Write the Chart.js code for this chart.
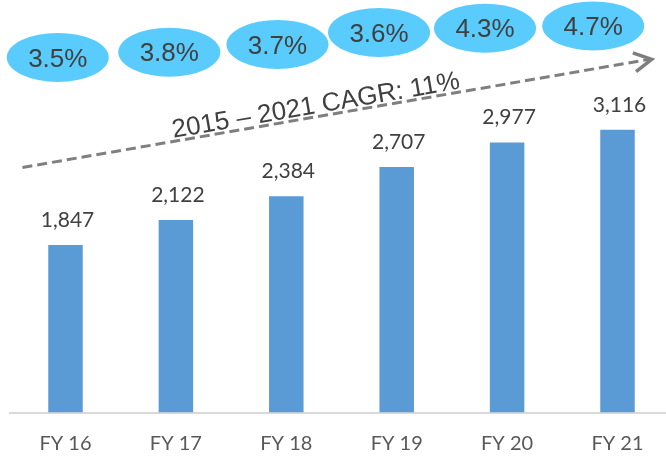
<!DOCTYPE html>
<html>
<head>
<meta charset="utf-8">
<script src="https://cdn.jsdelivr.net/npm/chart.js@4"></script>
<style>
  html, body { margin: 0; padding: 0; background: #fff; }
  #wrap { width: 666px; height: 456px; overflow: hidden; }
</style>
</head>
<body>
<div id="wrap"><canvas id="revenueChart" width="674" height="456"></canvas></div>
<script>
// Categories and values
const years = ['FY 16', 'FY 17', 'FY 18', 'FY 19', 'FY 20', 'FY 21'];
const revenue = [1847, 2122, 2384, 2707, 2977, 3116];
const growth = ['3.5%', '3.8%', '3.7%', '3.6%', '4.3%', '4.7%'];
const cagrLabel = '2015 \u2013 2021 CAGR: 11%';

// Where the call-outs sit, in axis units (category index, value)
const bubbleX = [-0.07, 0.94, 1.92, 2.84, 3.80, 4.78];
const bubbleY = [3914, 3972, 4057, 4190, 4236, 4261];
const arrowFrom = [-0.39, 2701];
const arrowTo = [5.31, 3894];
const cagrAt = [2.28, 3300];

const annotations = {
  id: 'annotations',
  afterDatasetsDraw(chart) {
    const ctx = chart.ctx;
    const xs = chart.scales.x;
    const ys = chart.scales.y;

    // value labels above bars
    const meta = chart.getDatasetMeta(0);
    ctx.save();
    ctx.font = '21px Lato';
    ctx.fillStyle = '#404040';
    ctx.textAlign = 'center';
    ctx.textBaseline = 'middle';
    meta.data.forEach((bar, i) => {
      ctx.fillText(revenue[i].toLocaleString('en-US'), bar.x + 2, bar.y - 25);
    });
    ctx.restore();

    // dashed trend arrow
    const x1 = xs.getPixelForValue(arrowFrom[0]), y1 = ys.getPixelForValue(arrowFrom[1]);
    const x2 = xs.getPixelForValue(arrowTo[0]), y2 = ys.getPixelForValue(arrowTo[1]);
    const ang = Math.atan2(y2 - y1, x2 - x1);
    ctx.save();
    ctx.strokeStyle = '#7F7F7F';
    ctx.lineWidth = 3;
    ctx.setLineDash([10, 5]);
    ctx.beginPath();
    ctx.moveTo(x1, y1);
    ctx.lineTo(x2 - 2, y2);
    ctx.stroke();
    ctx.setLineDash([]);
    ctx.lineWidth = 3.5;
    ctx.beginPath();
    ctx.moveTo(x2 + 20 * Math.cos(ang + Math.PI - 0.5), y2 + 20 * Math.sin(ang + Math.PI - 0.5));
    ctx.lineTo(x2, y2);
    ctx.lineTo(x2 + 20 * Math.cos(ang + Math.PI + 0.5), y2 + 20 * Math.sin(ang + Math.PI + 0.5));
    ctx.stroke();
    ctx.restore();

    // CAGR text along the arrow
    ctx.save();
    ctx.translate(xs.getPixelForValue(cagrAt[0]), ys.getPixelForValue(cagrAt[1]));
    ctx.rotate(ang);
    ctx.font = '26px "Liberation Sans"';
    ctx.fillStyle = '#404040';
    ctx.textAlign = 'center';
    ctx.textBaseline = 'alphabetic';
    ctx.fillText(cagrLabel, 0, 0);
    ctx.restore();

    // growth bubbles
    ctx.save();
    growth.forEach((g, i) => {
      const cx = xs.getPixelForValue(bubbleX[i]);
      const cy = ys.getPixelForValue(bubbleY[i]);
      ctx.fillStyle = '#59CBFD';
      ctx.beginPath();
      ctx.ellipse(cx, cy, 51, 24.5, 0, 0, Math.PI * 2);
      ctx.fill();
      ctx.fillStyle = '#404040';
      ctx.font = '26px "Liberation Sans"';
      ctx.textAlign = 'center';
      ctx.textBaseline = 'middle';
      ctx.fillText(g, cx, cy + 2);
    });
    ctx.restore();
  }
};

const ctx = document.getElementById('revenueChart').getContext('2d');
const revenueChart = new Chart(ctx, {
  type: 'bar',
  data: {
    labels: years,
    datasets: [{
      data: revenue,
      backgroundColor: '#5B9BD5',
      categoryPercentage: 1,
      barPercentage: 0.3125
    }]
  },
  options: {
    responsive: false,
    animation: false,
    layout: { padding: { left: 10.3, right: 1.3, top: 95, bottom: 0 } },
    plugins: {
      legend: { display: false },
      tooltip: { enabled: false },
      title: { display: false }
    },
    scales: {
      x: {
        grid: { display: false, drawTicks: false },
        border: { display: true, color: '#D9D9D9', width: 2 },
        ticks: {
          color: '#595959',
          font: { family: 'Lato', size: 20 },
          padding: 19,
          maxRotation: 0
        },
        afterFit(scale) { scale.height = 43.5; }
      },
      y: {
        display: false,
        min: 0,
        max: 3500
      }
    }
  },
  plugins: [annotations]
});
</script>
</body>
</html>
